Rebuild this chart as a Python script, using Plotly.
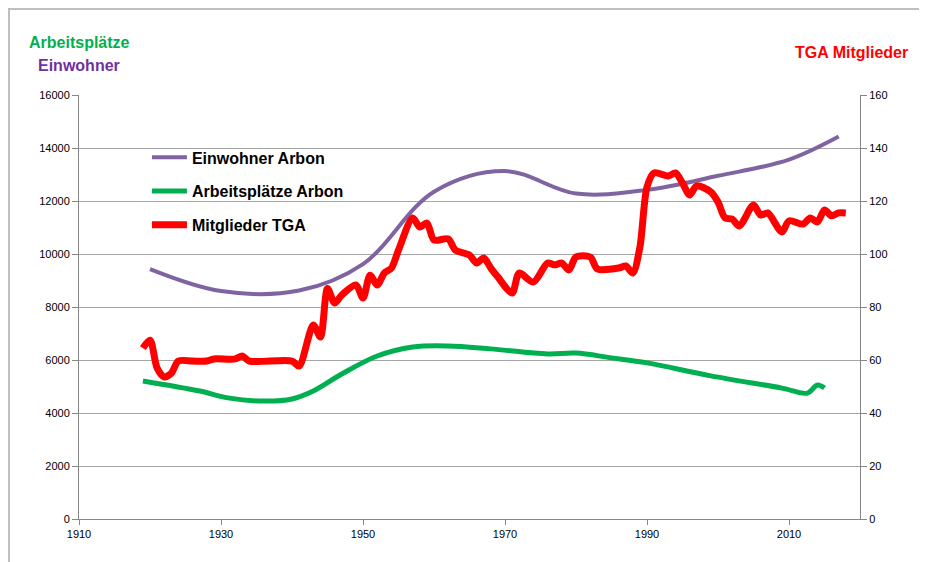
import plotly.graph_objects as go

# ---- data ----
einw_years = [1920, 1930, 1941, 1950, 1960, 1970, 1980, 1990, 2000, 2010, 2017]
einw_vals = [9430, 8600, 8620, 9620, 12350, 13130, 12280, 12420, 12950, 13560, 14430]

arb_years = [1919, 1927, 1931, 1936, 1940, 1943, 1947, 1952, 1957, 1962, 1968, 1976, 1980, 1985, 1990, 1999, 2009, 2012.6, 2014, 2015]
arb_vals = [5210, 4830, 4570, 4450, 4530, 4830, 5470, 6150, 6490, 6530, 6420, 6230, 6260, 6080, 5890, 5400, 4940, 4750, 5060, 4940]

tga_years = [1919, 1920, 1921, 1922, 1923, 1924, 1926, 1928, 1929, 1932, 1933, 1934, 1940, 1941, 1943, 1944, 1945, 1946, 1947,
             1949, 1950, 1951, 1952, 1953, 1954, 1955, 1957, 1958, 1959, 1960, 1962, 1963, 1965, 1966, 1967, 1968, 1969,
             1971, 1972, 1974, 1976, 1977, 1978, 1979, 1980, 1982, 1983, 1986, 1987, 1988, 1989, 1990, 1991, 1993, 1994,
             1995, 1996, 1997, 1999, 2000, 2001, 2002, 2003, 2005, 2006, 2007, 2009, 2010, 2012, 2013, 2014, 2015, 2016,
             2017, 2018]
tga_vals = [64.5, 67.5, 57, 53.6, 55, 59.6, 59.6, 59.6, 60.4, 60.4, 61.5, 59.6, 59.6, 57.7, 73.2, 68.7, 87, 81.5, 84.5,
            88.3, 83.4, 92, 88.3, 92.8, 94.7, 101.5, 113.6, 110.2, 111.7, 105.3, 105.7, 101.5, 99.6, 96.6, 98.5, 94.7, 91.3,
            85.3, 92.8, 89.4, 96.6, 95.9, 96.6, 94, 98.9, 98.9, 94.4, 94.7, 95.5, 92.8, 102.6, 125.3, 130.6, 129.4, 130.6,
            126.8, 122.3, 125.7, 123.4, 119.6, 113.6, 113.2, 110.6, 118.5, 114.7, 115.5, 108.3, 112.5, 111.3, 113.6, 112.1,
            116.6, 114.4, 115.5, 115.5]

x_ticks = [1910, 1930, 1950, 1970, 1990, 2010]
y_ticks = list(range(0, 16001, 2000))
y2_ticks = list(range(0, 161, 20))

PURPLE = "#8064A2"
GREEN = "#00B050"
RED = "#FF0000"
TXT_PURPLE = "#7030A0"
FONT = "Liberation Sans, Arial, sans-serif"

fig = go.Figure()
fig.add_trace(go.Scatter(x=einw_years, y=einw_vals, name="Einwohner Arbon", mode="lines",
                         line=dict(color=PURPLE, width=4, shape="spline", smoothing=1.0),
                         legendgroup="a", yaxis="y"))
fig.add_trace(go.Scatter(x=arb_years, y=arb_vals, name="Arbeitsplätze Arbon", mode="lines",
                         line=dict(color=GREEN, width=5, shape="spline", smoothing=1.0),
                         legendgroup="b", yaxis="y"))
fig.add_trace(go.Scatter(x=tga_years, y=tga_vals, name="Mitglieder TGA", mode="lines",
                         line=dict(color=RED, width=7, shape="spline", smoothing=0.8),
                         legendgroup="c", yaxis="y2"))

axis_col = "#868686"
grid_col = "#A6A6A6"
tick_font = dict(family=FONT, size=11, color="black")

PL, PT, PW, PH = 71, 87, 781, 424  # plot area in figure pixels

fig.update_layout(
    width=919, height=554,
    margin=dict(l=PL, r=67, t=PT, b=43),
    paper_bgcolor="white", plot_bgcolor="white",
    font=dict(family=FONT, size=11, color="black"),
    showlegend=True,
    legend=dict(x=0.087, y=0.893, xanchor="left", yanchor="top", itemwidth=35,
                bgcolor="rgba(0,0,0,0)", traceorder="grouped", tracegroupgap=10,
                font=dict(family=FONT, size=16, color="black", weight="bold")),
    xaxis=dict(range=[1910, 2020], tickvals=x_ticks, ticktext=[str(t) for t in x_ticks],
               showgrid=False, zeroline=False, showline=True, linecolor=axis_col, linewidth=1,
               ticks="outside", ticklen=5, tickcolor=axis_col, tickfont=tick_font),
    yaxis=dict(range=[0, 16000], tickvals=y_ticks, ticktext=[str(t) for t in y_ticks],
               showgrid=True, gridcolor=grid_col, gridwidth=1, zeroline=False,
               showline=True, linecolor=axis_col, linewidth=1,
               ticks="outside", ticklen=6, tickcolor=axis_col, tickfont=tick_font),
    yaxis2=dict(range=[0, 160], tickvals=y2_ticks, ticktext=[str(t) for t in y2_ticks],
                overlaying="y", side="right", showgrid=False, zeroline=False,
                showline=True, linecolor=axis_col, linewidth=1,
                ticks="outside", ticklen=6, tickcolor=axis_col, tickfont=tick_font),
)

# chart border (figure pixel positions converted to paper coordinates)
fig.add_shape(type="rect", xref="paper", yref="paper",
              x0=(1 - PL) / PW, x1=(913 - PL) / PW,
              y0=(PT + PH - 580) / PH, y1=(PT + PH - 1) / PH,
              line=dict(color="#BFBFBF", width=2), fillcolor="rgba(0,0,0,0)", layer="below")

# axis titles
fig.add_annotation(text="Arbeitsplätze", xref="paper", yref="paper", x=0.0, y=(519 - 43) / 424,
                   showarrow=False, xanchor="center", yanchor="middle",
                   font=dict(family=FONT, size=16, color=GREEN, weight="bold"))
fig.add_annotation(text="Einwohner", xref="paper", yref="paper", x=0.0, y=(519 - 66) / 424,
                   showarrow=False, xanchor="center", yanchor="middle",
                   font=dict(family=FONT, size=16, color=TXT_PURPLE, weight="bold"))
fig.add_annotation(text="TGA Mitglieder", xref="paper", yref="paper", x=(851 - 79) / 781, y=(519 - 52) / 424,
                   showarrow=False, xanchor="center", yanchor="middle",
                   font=dict(family=FONT, size=16, color=RED, weight="bold"))

fig.write_html("out.html")
